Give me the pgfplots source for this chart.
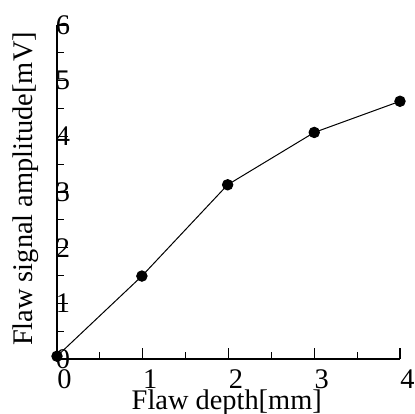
\documentclass[border=0pt]{standalone}
\usepackage{fontspec}
\setmainfont{Liberation Serif}
\usepackage{pgfplots}
\pgfplotsset{compat=1.18}

\begin{document}
\fontsize{14.2}{16}\selectfont
\begin{tikzpicture}
% fix the page to the reference's frame (axis box lower-left at origin)
\path[use as bounding box] (-28.5pt,-27.5pt) rectangle (178.5pt,179.5pt);
\begin{axis}[
    at={(0,0)}, anchor=south west,
    scale only axis,
    width=171.5pt, height=167pt,
    xmin=0, xmax=4, ymin=0, ymax=6,
    axis x line=bottom, axis y line=left,
    axis line style={-, line width=0.75pt},
    tick align=inside,
    xtick={0,1,2,3,4}, ytick={0,1,2,3,4,5,6},
    minor x tick num=1, minor y tick num=1,
    major tick length=5.5pt, minor tick length=3.3pt,
    every tick/.style={black, line width=0.6pt},
    /pgf/number format/assume math mode=true,
    tick label style={font=\fontsize{14.2}{16}\selectfont},
    xticklabel style={anchor=north west, inner xsep=0pt, yshift=-0.3pt},
    yticklabel style={anchor=west, inner xsep=0pt, xshift=-0.8pt},
    xlabel={Flaw depth[mm]},
    ylabel={Flaw signal amplitude[mV]},
    label style={font=\fontsize{14.2}{16}\selectfont},
    xlabel style={at={(axis description cs:0.495,-0.1527)}, anchor=base},
    ylabel style={at={(axis description cs:-0.0723,0.509)}, anchor=base},
    clip=false,
]
\addplot[black, line width=0.5pt, mark=*, mark size=2.6pt] coordinates {
  (0,0.05)(0.99,1.49)(1.99,3.13)(3,4.07)(4,4.63)
};
\end{axis}
\end{tikzpicture}
\end{document}
